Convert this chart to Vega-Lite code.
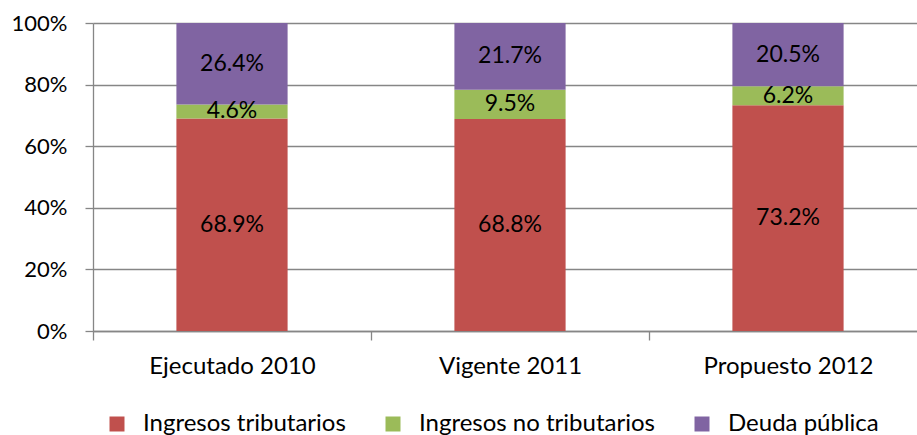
{
  "$schema": "https://vega.github.io/schema/vega-lite/v6.json",
  "autosize": "none",
  "width": 824,
  "height": 308,
  "padding": {"left": 93, "top": 23, "right": 0, "bottom": 104},
  "background": "white",
  "data": {
    "values": [
      {"periodo": "Ejecutado 2010", "serie": "Ingresos tributarios", "v": 0.689},
      {"periodo": "Ejecutado 2010", "serie": "Ingresos no tributarios", "v": 0.046},
      {"periodo": "Ejecutado 2010", "serie": "Deuda pública", "v": 0.264},
      {"periodo": "Vigente 2011", "serie": "Ingresos tributarios", "v": 0.688},
      {"periodo": "Vigente 2011", "serie": "Ingresos no tributarios", "v": 0.095},
      {"periodo": "Vigente 2011", "serie": "Deuda pública", "v": 0.217},
      {"periodo": "Propuesto 2012", "serie": "Ingresos tributarios", "v": 0.732},
      {"periodo": "Propuesto 2012", "serie": "Ingresos no tributarios", "v": 0.062},
      {"periodo": "Propuesto 2012", "serie": "Deuda pública", "v": 0.205}
    ]
  },
  "encoding": {
    "x": {
      "field": "periodo",
      "type": "nominal",
      "sort": null,
      "title": null,
      "scale": {"range": [0, 834], "paddingInner": 0.6, "paddingOuter": 0.3},
      "axis": {
        "labelAngle": 0,
        "labelFontSize": 24,
        "tickOffset": -139,
        "labelOffset": 139,
        "tickSize": 9,
        "labelPadding": 14
      }
    },
    "y": {
      "field": "v",
      "type": "quantitative",
      "stack": "normalize",
      "title": null,
      "axis": {
        "values": [0, 0.2, 0.4, 0.6, 0.8, 1],
        "format": ".0%",
        "grid": true,
        "tickSize": 8,
        "labelPadding": 18
      }
    },
    "order": {"field": "serie", "sort": "descending"}
  },
  "layer": [
    {
      "mark": {"type": "bar"},
      "encoding": {
        "color": {
          "field": "serie",
          "type": "nominal",
          "title": null,
          "scale": {
            "domain": ["Ingresos tributarios", "Ingresos no tributarios", "Deuda pública"],
            "range": ["#C0504D", "#9BBB59", "#8064A2"]
          },
          "legend": {
            "orient": "none",
            "direction": "horizontal",
            "columns": 3,
            "legendX": 12,
            "legendY": 389,
            "symbolType": "square",
            "symbolSize": 225,
            "symbolStrokeWidth": 0,
            "symbolOpacity": 1,
            "labelOffset": 14,
            "columnPadding": 35,
            "labelFontSize": 24,
            "labelFont": "Lato",
            "labelColor": "#000000",
            "labelLimit": 400,
            "padding": 0
          }
        }
      }
    },
    {
      "mark": {"type": "text", "font": "Lato", "fontSize": 23, "color": "#000000"},
      "encoding": {
        "y": {"field": "v", "type": "quantitative", "stack": "normalize", "bandPosition": 0.5},
        "text": {"field": "v", "type": "quantitative", "format": ".1%"}
      }
    }
  ],
  "config": {
    "view": {"stroke": null},
    "axis": {
      "labelFont": "Lato",
      "labelFontSize": 22,
      "labelColor": "#000000",
      "domainColor": "#868686",
      "tickColor": "#868686",
      "gridColor": "#868686",
      "domainWidth": 1.3,
      "tickWidth": 1.3,
      "gridWidth": 1.3
    }
  }
}
